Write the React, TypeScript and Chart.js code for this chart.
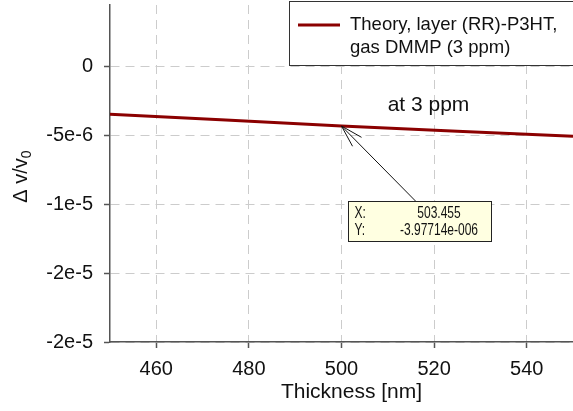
import React, { useEffect, useRef } from "react";
import { Chart, registerables } from "chart.js";

Chart.register(...registerables);

const thicknessNm = [450, 475, 500, 525, 550];
const deltaVOverV0 = [-3.45e-6, -3.86e-6, -4.3e-6, -4.67e-6, -5.05e-6];
const xTickValues = [460, 480, 500, 520, 540];
const yTickValues = [-2e-5, -1.5e-5, -1e-5, -5e-6, 0];
const yTickLabels = ["-2e-5", "-2e-5", "-1e-5", "-5e-6", "0"];
const legendLines = ["Theory, layer (RR)-P3HT,", "gas DMMP (3 ppm)"];
const tipIndex = 2;
const tipTextX = "503.455";
const tipTextY = "-3.97714e-006";
const noteText = "at 3 ppm";
const xTitle = "Thickness [nm]";

const FONT = "'Liberation Sans', Arial, Helvetica, sans-serif";
const LINE_COLOR = "#8b0000";
const AXIS_COLOR = "#555555";

const overlayPlugin = {
  id: "overlay",
  afterDraw(chart: any) {
    const ctx = chart.ctx as CanvasRenderingContext2D;
    const area = chart.chartArea;
    const xs = chart.scales.x;
    const ys = chart.scales.y;

    // x title
    ctx.save();
    ctx.fillStyle = "#111";
    ctx.font = `21px ${FONT}`;
    ctx.textAlign = "center";
    ctx.textBaseline = "middle";
    ctx.fillText(xTitle, (area.left + area.right) / 2 + 10, 392);
    ctx.restore();

    // y title: Δ v/v0
    ctx.save();
    ctx.translate(21, (area.top + area.bottom) / 2 + 3);
    ctx.rotate(-Math.PI / 2);
    ctx.fillStyle = "#111";
    ctx.textBaseline = "middle";
    ctx.font = `20px ${FONT}`;
    const main = "\u0394 v/v";
    const wMain = ctx.measureText(main).width;
    ctx.font = `14px ${FONT}`;
    const wSub = ctx.measureText("0").width;
    const start = -(wMain + wSub) / 2;
    ctx.font = `20px ${FONT}`;
    ctx.textAlign = "left";
    ctx.fillText(main, start, 0);
    ctx.font = `14px ${FONT}`;
    ctx.fillText("0", start + wMain, 6);
    ctx.restore();

    // legend box
    ctx.save();
    ctx.fillStyle = "#ffffff";
    ctx.fillRect(289.5, 1.5, 300, 64);
    ctx.strokeStyle = "#333333";
    ctx.lineWidth = 1;
    ctx.strokeRect(289.5, 1.5, 300, 64);
    ctx.strokeStyle = LINE_COLOR;
    ctx.lineWidth = 3;
    ctx.beginPath();
    ctx.moveTo(298, 25);
    ctx.lineTo(340, 25);
    ctx.stroke();
    ctx.fillStyle = "#111";
    ctx.font = `18.5px ${FONT}`;
    ctx.textAlign = "left";
    ctx.textBaseline = "middle";
    ctx.fillText(legendLines[0], 350, 25);
    ctx.fillText(legendLines[1], 350, 48);
    ctx.restore();

    // annotation anchor
    const tx = xs.getPixelForValue(thicknessNm[tipIndex]);
    const ty = ys.getPixelForValue(deltaVOverV0[tipIndex]);

    ctx.save();
    ctx.fillStyle = "#111";
    ctx.font = `21px ${FONT}`;
    ctx.textAlign = "center";
    ctx.textBaseline = "alphabetic";
    ctx.fillText(noteText, tx + 87, ty - 15);
    ctx.restore();

    // arrow
    const ex = tx + 75;
    const ey = ty + 76;
    ctx.save();
    ctx.strokeStyle = "#111";
    ctx.lineWidth = 1;
    ctx.beginPath();
    ctx.moveTo(ex, ey);
    ctx.lineTo(tx, ty);
    const ang = Math.atan2(ey - ty, ex - tx);
    const hl = 23;
    const spread = (16 * Math.PI) / 180;
    ctx.moveTo(tx + hl * Math.cos(ang - spread), ty + hl * Math.sin(ang - spread));
    ctx.lineTo(tx, ty);
    ctx.lineTo(tx + hl * Math.cos(ang + spread), ty + hl * Math.sin(ang + spread));
    ctx.stroke();
    ctx.restore();

    // data tip box
    const bx = Math.round(tx + 6) + 0.5;
    const by = Math.round(ty + 75) + 0.5;
    ctx.save();
    ctx.fillStyle = "#ffffe1";
    ctx.fillRect(bx, by, 143, 40);
    ctx.strokeStyle = "#222";
    ctx.lineWidth = 1;
    ctx.strokeRect(bx, by, 143, 40);
    ctx.fillStyle = "#111";
    ctx.textBaseline = "alphabetic";
    const drawNarrow = (text: string, x: number, y: number, align: CanvasTextAlign) => {
      ctx.save();
      ctx.translate(x, y);
      ctx.scale(0.75, 1);
      ctx.font = `16px ${FONT}`;
      ctx.textAlign = align;
      ctx.fillText(text, 0, 0);
      ctx.restore();
    };
    drawNarrow("X:", bx + 6, by + 16.5, "left");
    drawNarrow("Y:", bx + 6, by + 33, "left");
    drawNarrow(tipTextX, bx + 90.5, by + 16.5, "center");
    drawNarrow(tipTextY, bx + 90.5, by + 33, "center");
    ctx.restore();
  },
};

export default function App() {
  const ref = useRef<HTMLCanvasElement | null>(null);

  useEffect(() => {
    if (!ref.current) return;
    const chart = new Chart(ref.current, {
      type: "line",
      data: {
        datasets: [
          {
            label: legendLines.join(" "),
            data: thicknessNm.map((x, i) => ({ x, y: deltaVOverV0[i] })),
            borderColor: LINE_COLOR,
            backgroundColor: LINE_COLOR,
            borderWidth: 3,
            pointRadius: 0,
            tension: 0,
          },
        ],
      },
      options: {
        animation: false,
        responsive: false,
        layout: { padding: { top: 5, right: 0, left: 0, bottom: 0 } },
        plugins: {
          legend: { display: false },
          tooltip: { enabled: false },
          title: { display: false },
        },
        scales: {
          x: {
            type: "linear",
            min: 450,
            max: 550,
            afterBuildTicks: (s: any) => {
              s.ticks = xTickValues.map((v) => ({ value: v }));
            },
            afterFit: (s: any) => {
              s.height = 69;
              s.paddingLeft = 0;
              s.paddingRight = 0;
            },
            ticks: {
              color: "#111",
              font: { family: FONT, size: 20 },
              padding: 9,
              maxRotation: 0,
              autoSkip: false,
            },
            grid: {
              color: "#cccccc",
              lineWidth: 1,
              tickColor: AXIS_COLOR,
              tickLength: 6,
              tickWidth: 1.5,
              tickBorderDash: [],
            },
            border: { display: true, color: AXIS_COLOR, width: 1.5, dash: [9, 6] },
          },
          y: {
            type: "linear",
            min: -2e-5,
            max: 4.5e-6,
            afterBuildTicks: (s: any) => {
              s.ticks = yTickValues.map((v) => ({ value: v }));
            },
            afterFit: (s: any) => {
              s.width = 110;
              s.paddingTop = 0;
              s.paddingBottom = 0;
            },
            ticks: {
              color: "#111",
              font: { family: FONT, size: 20 },
              padding: 11,
              autoSkip: false,
              callback: (v: any) => {
                const i = yTickValues.findIndex((t) => Math.abs(t - Number(v)) < 1e-12);
                return i >= 0 ? yTickLabels[i] : "";
              },
            },
            grid: {
              color: "#cccccc",
              lineWidth: 1,
              tickColor: AXIS_COLOR,
              tickLength: 6,
              tickWidth: 1.5,
              tickBorderDash: [],
            },
            border: { display: true, color: AXIS_COLOR, width: 1.5, dash: [9, 6] },
          },
        },
      },
      plugins: [overlayPlugin],
    });
    return () => chart.destroy();
  }, []);

  return (
    <div style={{ position: "absolute", left: 0, top: 0, width: 573, height: 411, background: "#fff" }}>
      <canvas ref={ref} width={573} height={411} style={{ display: "block" }} />
    </div>
  );
}
